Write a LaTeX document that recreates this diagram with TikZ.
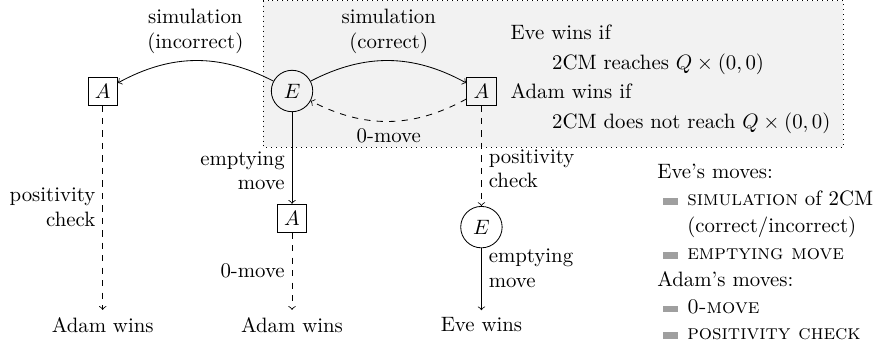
\documentclass[tikz,border=0pt]{standalone}
\newcommand{\movebar}{\hspace*{2.9pt}\textcolor{gray!75}{\rule[0.3pt]{7.2pt}{3.3pt}}\hspace*{4.3pt}}
\begin{document}
\begin{tikzpicture}[node distance={32mm}, eve/.style = {draw, circle}, adam/.style = {draw, rectangle}]
        \useasboundingbox (-140.4pt,43.75pt) rectangle (286.5pt,-124.05pt);
        \draw[dotted, fill=black!5] (-14pt,43.4pt) rectangle (265pt,-26.9pt);

            \node[eve] (1) {$E$};
            \node[adam] (2) [left of=1] {$A$};
            \node[adam] (3) [right of=1] {$A$};
            \node[adam] (4) [below of=1, node distance=21.5mm] {$A$};
            \node[eve] (5) [below of=3, node distance=23mm] {$E$};
            \node (7) [below of=4, node distance=18mm] {Adam wins};
            \node (6) [left of=7] {Adam wins};
            \node (8) [right of=7] {Eve wins};

            \draw[->] (1) to[bend right=28] node[above, align=center] {simulation\\(incorrect)} (2);
            \draw[->] (1) to[bend left=28] node[above, align=center] {simulation\\(correct)} (3);
            \draw[->, dashed] (3) to[bend left=28] node[below] {0-move} (1);
            \draw[->, dashed] (2) -- node[left, align=right] {positivity\\check} (6);
            \draw[->] (1) -- node[left, align=right, pos=0.64] {emptying\\move} (4);
            \draw[->, dashed] (4) -- node[left] {0-move} (7);
            \draw[->, dashed] (3) -- node[right, align=left, pos=0.63] {positivity\\check} (5);
            \draw[->] (5) -- node[right, align=left, pos=0.33] {emptying\\move} (8);

            \node[anchor=north west, align=left] (cond) at (101.5pt,35.3pt) {Eve wins if\\[2.2pt]\hspace*{2em}2CM reaches $Q\times(0,0)$\\[2.2pt]Adam wins if\\[2.2pt]\hspace*{2em}2CM does not reach $Q\times(0,0)$};
            \node[anchor=north west, align=left] (legend) at (172.1pt,-31.8pt) {Eve's moves:\\[0.9pt]\movebar\textsc{simulation} of 2CM\\[0.9pt]\hspace*{14.4pt}(correct/incorrect)\\[0.9pt]\movebar\textsc{emptying move}\\[0.9pt]Adam's moves:\\[0.9pt]\movebar\textsc{0-move}\\[0.9pt]\movebar\textsc{positivity check}};
        \end{tikzpicture}
\end{document}
